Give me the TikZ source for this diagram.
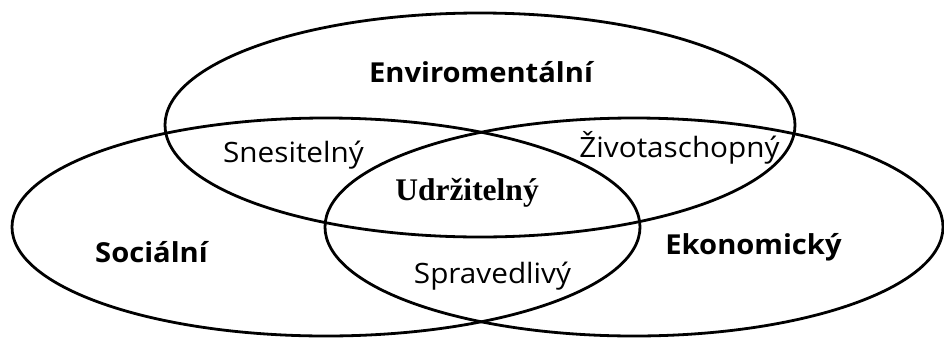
\documentclass[tikz,border=0pt]{standalone}
\usepackage{fontspec}
\setmainfont{Open Sans}[FakeStretch=1.06]
\newfontfamily\udrzfont{Liberation Serif}
\begin{document}
\begin{tikzpicture}[x=1pt,y=-1pt,
  ell/.style={draw=black,line width=2.8pt},
  lbl/.style={inner sep=0pt,anchor=base,font=\fontsize{28}{32}\selectfont},
  blbl/.style={lbl,font=\fontsize{27.5}{32}\selectfont\bfseries},
  slbl/.style={inner sep=0pt,anchor=base,font=\fontsize{31.5}{36}\selectfont\udrzfont\bfseries}]
\useasboundingbox (0,0) rectangle (944,338);
\draw[ell] (480,125) ellipse [x radius=315, y radius=112];
\draw[ell] (326,227) ellipse [x radius=314, y radius=109];
\draw[ell] (634,227) ellipse [x radius=309, y radius=109];
\node[blbl] (env) at (481,82) {Enviromentální};
\node[blbl] (soc) at (151.5,262) {Sociální};
\node[blbl] (eko) at (753.5,254) {Ekonomický};
\node[lbl] (sne) at (293.5,162) {Snesitelný};
\node[lbl] (ziv) at (679.5,157) {Životaschopný};
\node[lbl] (spr) at (492.5,283) {Spravedlivý};
\node[slbl] (udr) at (467,200) {Udržitelný};
\end{tikzpicture}
\end{document}
